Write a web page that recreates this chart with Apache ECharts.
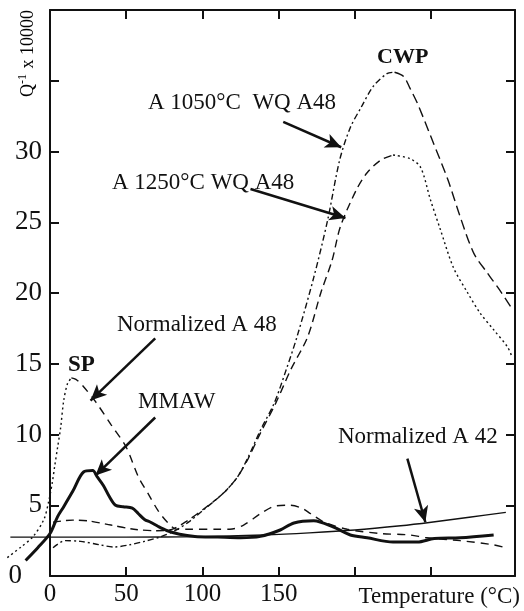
<!DOCTYPE html>
<html>
<head>
<meta charset="utf-8">
<script src="https://cdn.jsdelivr.net/npm/echarts@6/dist/echarts.min.js"></script>
<style>
  html, body { margin: 0; background: #fff; }
  #chart { width: 524px; height: 611px; }
</style>
</head>
<body>
<div id="chart"></div>
<script>
// internal friction Q^-1 x 10000 against temperature (°C)
const normA48 = [[-28, 1.3], [-19, 2.05], [-11, 2.8], [-4, 4.0], [-1, 5.2], [1.5, 6.6], [3, 7.7], [5, 9.1], [7, 10.5], [9, 12.4], [11.5, 13.6], [14, 14.0], [17, 13.9], [21, 13.5], [30, 12.3], [40, 10.7], [50, 9.1], [58, 7.0], [65, 5.7], [71, 4.6], [77, 3.8], [83, 3.3], [92, 3.3], [110, 3.3], [118, 3.3], [127, 3.6], [138, 4.4], [148, 4.95], [157, 5.0], [165, 4.8], [171, 4.4], [180, 3.8], [195, 3.3], [217, 3.0], [236, 2.9], [247, 2.7], [269, 2.5], [291, 2.2], [299, 2.0]];
const wq1050 = [[2, 2.0], [10, 2.5], [20, 2.45], [33, 2.2], [42, 2.05], [52, 2.2], [62, 2.45], [72, 2.75], [82, 3.2], [92, 3.9], [101, 4.7], [110, 5.5], [116, 6.1], [123, 7.0], [130, 8.4], [138, 10.3], [147, 12.2], [155, 14.6], [162, 16.9], [173, 21.1], [182, 25.1], [190, 29.4], [197, 31.7], [204, 33.1], [212, 34.6], [221, 35.5], [226, 35.6], [232, 35.3], [236, 34.5], [241, 33.4], [250, 31.0], [261, 28.0], [269, 25.4], [278, 22.8], [287, 21.4], [295, 20.2], [303, 18.9]];
const wq1250 = [[2, 3.8], [15, 3.95], [25, 3.9], [40, 3.6], [55, 3.3], [70, 3.2], [80, 3.3], [90, 3.9], [101, 4.75], [110, 5.5], [116, 6.1], [123, 7.0], [130, 8.3], [138, 10.1], [148, 12.2], [158, 14.6], [169, 16.9], [177.6, 20.0], [185, 22.3], [190.5, 24.7], [201, 27.3], [208, 28.5], [217, 29.4], [225, 29.75], [236, 29.5], [243, 28.9], [249.5, 26.6], [256, 24.5], [264.6, 21.8], [274, 20.0], [282, 18.6], [291, 17.4], [300, 16.2], [303, 15.5]];
const mmaw = [[-16, 1.1], [-8, 2.0], [0, 3.0], [5, 4.2], [9, 4.9], [15, 6.0], [22, 7.35], [28, 7.45], [31, 7.0], [35, 6.4], [39, 5.6], [43, 5.0], [48, 4.9], [54, 4.8], [58, 4.4], [62, 4.0], [66, 3.8], [71, 3.5], [77, 3.2], [85, 2.95], [95, 2.8], [110, 2.75], [125, 2.7], [138, 2.8], [151, 3.25], [160, 3.75], [173, 3.9], [186, 3.45], [197, 2.9], [208, 2.7], [225, 2.4], [241, 2.4], [252, 2.65], [269, 2.7], [291, 2.9]];
const normA42 = [[-26, 2.75], [0, 2.75], [50, 2.75], [100, 2.78], [140, 2.9], [170, 3.05], [200, 3.25], [230, 3.55], [250, 3.8], [275, 4.15], [299, 4.5]];

const xTicks = [50, 100, 150, 200, 250];
const xTickLabels = [0, 50, 100, 150];
const yTicks = [5, 10, 15, 20, 25, 30, 35];
const yTickLabels = [0, 5, 10, 15, 20, 25, 30];

// annotation arrows: [tail, head] in data units
const arrows = [
  [[153, 32.1], [191, 30.3]],
  [[131.5, 27.35], [193.8, 25.3]],
  [[69, 16.8], [26.6, 12.4]],
  [[69, 11.2], [29.8, 7.1]],
  [[234.4, 8.3], [246.2, 3.8]]
];

const X_MAX = 305, Y_MAX = 40, X_LEFT = -30;
const PLOT_LEFT = 50, PLOT_RIGHT = 515;
const ink = '#111';
const serif = '"Liberation Serif", "Times New Roman", serif';
const chart = echarts.init(document.getElementById('chart'));

// curves hang past the left axis, so they live in a second grid that starts at X_LEFT
// with the same px-per-degree as the framed grid
const pxPerDeg = (PLOT_RIGHT - PLOT_LEFT) / X_MAX;
const curveLeft = PLOT_LEFT + X_LEFT * pxPerDeg;

function curve(name, data, lineStyle, extra) {
  return Object.assign({
    name, type: 'line', data,
    xAxisIndex: 2, yAxisIndex: 2,
    symbol: 'none', showSymbol: false,
    smooth: 0.3,
    lineStyle: Object.assign({ color: ink, width: 1.4 }, lineStyle)
  }, extra || {});
}

// the scan draws the two sides of a peak with different dash patterns
function peakIndex(data) {
  let k = 0;
  data.forEach((d, i) => { if (d[1] > data[k][1]) k = i; });
  return k;
}
function twoSided(name, data, before, after) {
  const k = peakIndex(data);
  return [
    curve(name, data.slice(0, k + 1), { type: before }),
    curve(name, data.slice(k), { type: after })
  ];
}

function frameAxis(position, isX, shown) {
  const base = {
    type: 'value', position, gridIndex: 0,
    min: 0, max: isX ? X_MAX : Y_MAX,
    axisLine: { show: true, onZero: false, lineStyle: { color: ink, width: 2 } },
    axisTick: { show: true, inside: true, length: 9, customValues: isX ? xTicks : yTicks, lineStyle: { color: ink, width: 2 } },
    axisLabel: { show: false },
    splitLine: { show: false }
  };
  if (shown) {
    const fs = isX ? 25 : 27;
    base.axisLabel = {
      show: true,
      customValues: isX ? xTickLabels : yTickLabels,
      fontFamily: serif, fontSize: fs, color: ink,
      margin: isX ? 6 : 8,
      formatter: v => (!isX && v === 0) ? '{z|0}' : String(v),
      rich: { z: { fontFamily: serif, fontSize: fs, color: ink, padding: [0, 20, 0, 0] } }
    };
  }
  return base;
}

const hiddenAxis = (isX) => ({
  type: 'value', gridIndex: 1,
  min: isX ? X_LEFT : 0, max: isX ? X_MAX : Y_MAX,
  show: false
});

const xBottom = frameAxis('bottom', true, true);
xBottom.name = 'Temperature (°C)';
xBottom.nameLocation = 'end';
xBottom.nameGap = 5;
xBottom.nameTextStyle = { fontFamily: serif, fontSize: 23, color: ink, align: 'right', verticalAlign: 'top', padding: [9, 0, 0, 0] };

const label = (text, x, y, size, bold) => ({
  type: 'text', x, y, silent: true,
  style: { text, font: (bold ? 'bold ' : '') + size + 'px ' + serif, fill: ink, align: 'left', verticalAlign: 'middle' }
});

chart.setOption({
  animation: false,
  backgroundColor: '#fff',
  grid: [
    { left: PLOT_LEFT, right: 524 - PLOT_RIGHT, top: 10, bottom: 35 },
    { left: curveLeft, right: 524 - PLOT_RIGHT, top: 10, bottom: 35 }
  ],
  xAxis: [xBottom, frameAxis('top', true, false), hiddenAxis(true)],
  yAxis: [frameAxis('left', false, true), frameAxis('right', false, false), hiddenAxis(false)],
  series: [
    ...twoSided('Normalized A 48', normA48, [2, 3], [8, 6]),
    ...twoSided('A 1050°C WQ A48', wq1050, [6, 3, 2, 3], [10, 5]),
    ...twoSided('A 1250°C WQ A48', wq1250, [8, 5], [2, 3]),
    curve('Normalized A 42', normA42, { type: 'solid', width: 1.4 }),
    curve('MMAW', mmaw, { type: 'solid', width: 3 }, {
      markLine: {
        silent: true,
        symbol: ['none', 'arrow'],
        symbolSize: [11, 16],
        label: { show: false },
        lineStyle: { type: 'solid', color: ink, width: 2.5 },
        data: arrows.map(([a, b]) => [{ coord: a }, { coord: b }])
      }
    })
  ],
  graphic: [
    {
      type: 'text', x: 28, y: 10, rotation: Math.PI / 2, silent: true,
      style: {
        text: '{n|Q}{s|-1}{n| x 10000}',
        align: 'right', verticalAlign: 'middle',
        rich: {
          n: { fontFamily: serif, fontSize: 18, color: ink },
          s: { fontFamily: serif, fontSize: 12, color: ink, padding: [0, 1, 10, 0] }
        }
      }
    },
    label('CWP', 377, 57, 22, true),
    label('A 1050°C  WQ A48', 148, 103, 23),
    label('A 1250°C WQ A48', 112, 183, 23),
    label('Normalized A 48', 117, 325, 23),
    label('SP', 68, 365, 23, true),
    label('MMAW', 138, 402, 23),
    label('Normalized A 42', 338, 437, 23)
  ]
});
</script>
</body>
</html>
